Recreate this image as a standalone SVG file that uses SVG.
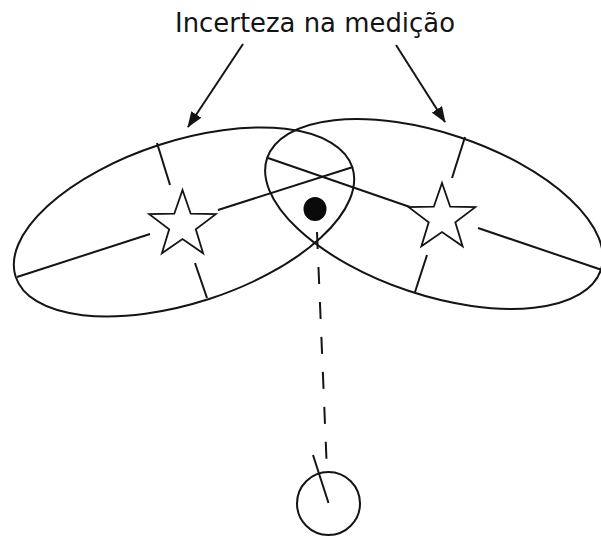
<svg xmlns="http://www.w3.org/2000/svg" width="601" height="537" viewBox="0 0 601 537">
<style>
.ln{fill:none;stroke:#141414;stroke-width:2;stroke-linecap:butt}
.st{fill:#fff;stroke:#141414;stroke-width:1.8;stroke-linejoin:miter}
.lbl{font-family:"DejaVu Sans","Liberation Sans",sans-serif;font-size:26px;fill:#141414}
</style>
<defs>
<marker id="ah" viewBox="0 0 16 12" refX="15" refY="6" markerWidth="16" markerHeight="12" markerUnits="userSpaceOnUse" orient="auto">
<path d="M0,0 L16,6 L0,12 Z" fill="#141414"/>
</marker>
<path id="star" d="M0,-35 L8.2,-11.3 L33.3,-10.8 L13.3,4.3 L20.6,28.3 L0,14 L-20.6,28.3 L-13.3,4.3 L-33.3,-10.8 L-8.2,-11.3 Z"/>
</defs>
<g id="label">
<text class="lbl" x="315" y="32" text-anchor="middle" textLength="280" lengthAdjust="spacingAndGlyphs">Incerteza na medição</text>
</g>
<g id="ellipse-left">
<ellipse class="ln" cx="184" cy="222" rx="177" ry="81" transform="rotate(-18 184 222)"/>
<line class="ln" x1="17" y1="277" x2="150" y2="234"/>
<line class="ln" x1="218" y1="210" x2="353" y2="167"/>
<line class="ln" x1="157" y1="143" x2="170" y2="185"/>
<line class="ln" x1="195" y1="263" x2="207" y2="298"/>
<use href="#star" class="st" x="182.5" y="225"/>
</g>
<g id="ellipse-right">
<ellipse class="ln" cx="434" cy="214" rx="176" ry="81" transform="rotate(18.5 434 214)"/>
<line class="ln" x1="268" y1="158" x2="410" y2="207"/>
<line class="ln" x1="478" y1="228" x2="602" y2="270"/>
<line class="ln" x1="465" y1="137" x2="452" y2="178"/>
<line class="ln" x1="427" y1="255" x2="415" y2="292"/>
<use href="#star" class="st" x="442" y="218"/>
</g>
<g id="dot">
<ellipse cx="315" cy="209" rx="11.5" ry="12" fill="#0a0a0a"/>
</g>
<g id="observer">
<circle class="ln" cx="328.5" cy="503.5" r="31.5"/>
<line class="ln" x1="313" y1="455" x2="328.5" y2="503"/>
</g>
<g id="connectors">
<line class="ln" x1="243" y1="44" x2="188" y2="127" marker-end="url(#ah)"/>
<line class="ln" x1="396" y1="45" x2="445" y2="122" marker-end="url(#ah)"/>
<line class="ln" x1="317" y1="232" x2="326.5" y2="460" stroke-dasharray="17 18"/>
</g>
</svg>
